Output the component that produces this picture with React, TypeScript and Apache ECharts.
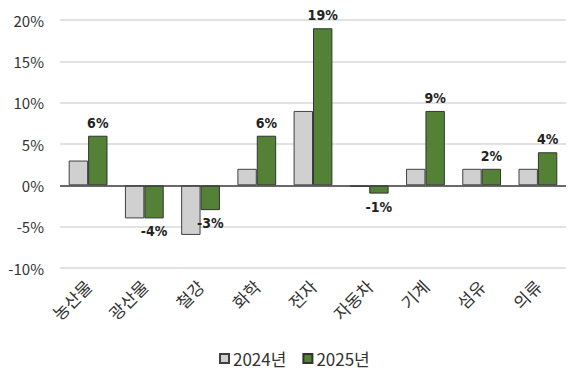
import React, { useEffect, useRef } from "react";
import * as echarts from "echarts";

const categories = ["농산물", "광산물", "철강", "화학", "전자", "자동차", "기계", "섬유", "의류"];
const values2024 = [3, -4, -6, 2, 9, -0.2, 2, 2, 2];
const values2025 = [6, -4, -3, 6, 19, -1, 9, 2, 4];
const seriesNames = ["2024년", "2025년"];

const FONT = "'Noto Sans CJK KR', 'Noto Sans', sans-serif";
const LABEL_FONT = "'DejaVu Sans Condensed', 'DejaVu Sans', sans-serif";

export default function App() {
  const ref = useRef<HTMLDivElement>(null);

  useEffect(() => {
    if (!ref.current) return;
    const chart = echarts.init(ref.current, undefined, { renderer: "svg" });
    chart.setOption({
      animation: false,
      backgroundColor: "#ffffff",
      grid: { left: 60, right: 2, top: 20, bottom: 105, containLabel: false },
      legend: {
        bottom: 1,
        left: 214,
        icon: "rect",
        itemWidth: 9,
        itemHeight: 9,
        itemGap: 16,
        textStyle: { fontFamily: FONT, fontSize: 17, color: "#333", padding: [0, 0, 0, -1] },
        data: seriesNames,
      },
      xAxis: {
        type: "category",
        data: categories,
        axisLine: { show: false, onZero: false },
        axisTick: { show: false },
        axisLabel: {
          rotate: 45,
          margin: 15,
          fontFamily: FONT,
          fontSize: 17,
          color: "#333",
          interval: 0,
        },
      },
      yAxis: {
        type: "value",
        min: -10,
        max: 20,
        interval: 5,
        axisLine: { show: false },
        axisTick: { show: false },
        axisLabel: {
          formatter: "{value}%",
          margin: 16,
          fontFamily: FONT,
          fontSize: 15,
          color: "#333",
        },
        splitLine: { lineStyle: { color: "#d9d9d9", width: 1.5 } },
      },
      series: [
        {
          name: seriesNames[0],
          type: "bar",
          data: values2024,
          barGap: "0%",
          barCategoryGap: "31%",
          itemStyle: { color: "#d0d0d0", borderColor: "#404040", borderWidth: 1 },
          markLine: {
            silent: true,
            symbol: "none",
            label: { show: false },
            lineStyle: { color: "#404040", type: "solid", width: 1.5 },
            data: [{ yAxis: 0 }],
          },
        },
        {
          name: seriesNames[1],
          type: "bar",
          data: values2025.map((v) => ({
            value: v,
            label: { position: v < 0 ? "bottom" : "top" },
          })),
          itemStyle: { color: "#538135", borderColor: "#333333", borderWidth: 1 },
          label: {
            show: true,
            formatter: "{c}%",
            distance: 6,
            fontFamily: LABEL_FONT,
            fontWeight: "bold",
            fontSize: 14,
            color: "#222",
          },
        },
      ],
    });
    return () => chart.dispose();
  }, []);

  return (
    <div
      ref={ref}
      style={{ position: "fixed", left: 0, top: 0, width: 568, height: 373 }}
    />
  );
}
